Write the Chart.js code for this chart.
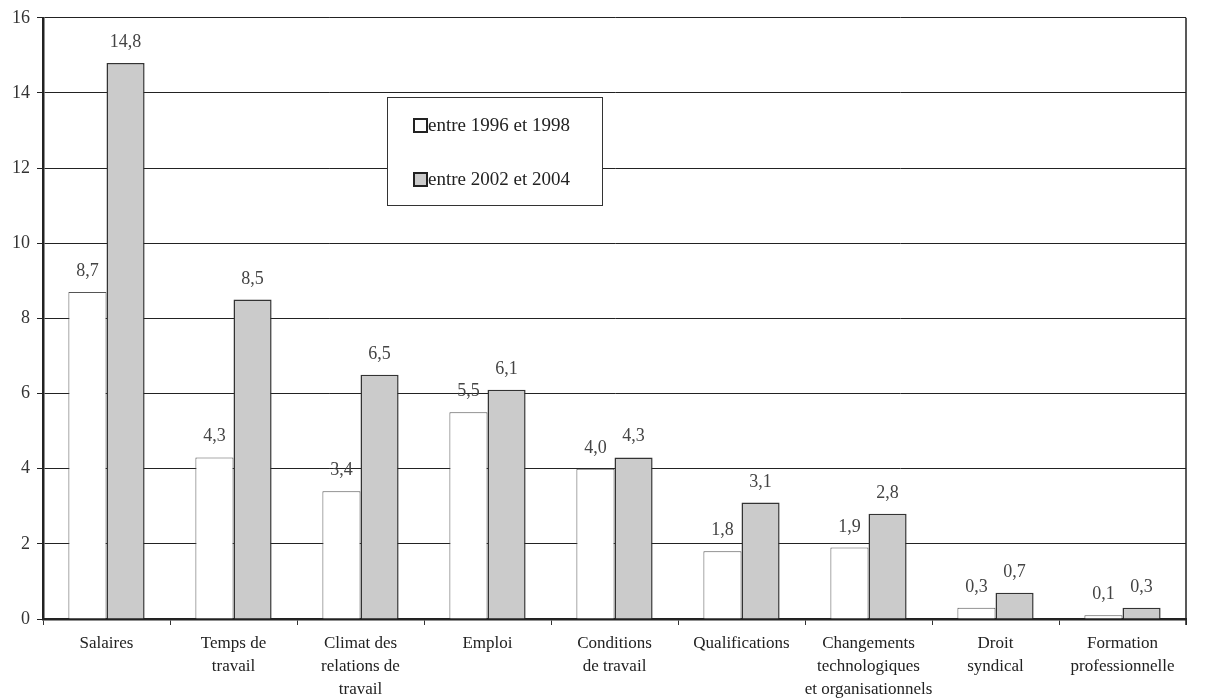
<!DOCTYPE html>
<html>
<head>
<meta charset="utf-8">
<script src="https://cdn.jsdelivr.net/npm/chart.js@4/dist/chart.umd.min.js"></script>
<style>
  body { margin: 0; background: #fff; }
  #wrap { width: 1210px; height: 698px; position: relative; }
</style>
</head>
<body>
<div id="wrap"><canvas id="chart"></canvas></div>
<script>
const categories = [
  "Salaires",
  ["Temps de", "travail"],
  ["Climat des", "relations de", "travail"],
  "Emploi",
  ["Conditions", "de travail"],
  "Qualifications",
  ["Changements", "technologiques", "et organisationnels"],
  ["Droit", "syndical"],
  ["Formation", "professionnelle"]
];
const seriesNames = ["entre 1996 et 1998", "entre 2002 et 2004"];
const values1996 = [8.7, 4.3, 3.4, 5.5, 4.0, 1.8, 1.9, 0.3, 0.1];
const values2002 = [14.8, 8.5, 6.5, 6.1, 4.3, 3.1, 2.8, 0.7, 0.3];
const yTicks = [0, 2, 4, 6, 8, 10, 12, 14, 16];

const SERIF = "'Liberation Serif', 'DejaVu Serif', serif";
const GRAY = "#cbcbcb";

// value labels above each bar, with a french decimal comma
const valueLabels = {
  id: "valueLabels",
  afterDatasetsDraw(chart) {
    const ctx = chart.ctx;
    ctx.save();
    ctx.font = "18px " + SERIF;
    ctx.fillStyle = "#444";
    ctx.textAlign = "center";
    ctx.textBaseline = "alphabetic";
    chart.data.datasets.forEach((ds, i) => {
      chart.getDatasetMeta(i).data.forEach((bar, j) => {
        const txt = ds.data[j].toFixed(1).replace(".", ",");
        ctx.fillText(txt, bar.x, bar.y - 16);
      });
    });
    ctx.restore();
  }
};

// right frame line and the boxed legend inside the plot
const frameAndLegend = {
  id: "frameAndLegend",
  afterDraw(chart) {
    const ctx = chart.ctx;
    const a = chart.chartArea;
    ctx.save();
    ctx.strokeStyle = "#222";
    ctx.lineWidth = 1.5;
    ctx.beginPath();
    ctx.moveTo(a.right, a.top);
    ctx.lineTo(a.right, a.bottom + 6);
    ctx.stroke();

    const bx = 387, by = 97, bw = 215, bh = 108;
    ctx.fillStyle = "#fff";
    ctx.fillRect(bx, by, bw, bh);
    ctx.lineWidth = 1;
    ctx.strokeStyle = "#333";
    ctx.strokeRect(bx + 0.5, by + 0.5, bw, bh);

    ctx.font = "19px " + SERIF;
    ctx.textBaseline = "middle";
    ctx.textAlign = "left";
    chart.data.datasets.forEach((ds, i) => {
      const y = by + 29 + i * 54;
      ctx.fillStyle = ds.backgroundColor;
      ctx.fillRect(414, y - 7, 13, 13);
      ctx.lineWidth = 2;
      ctx.strokeStyle = "#222";
      ctx.strokeRect(414, y - 7, 13, 13);
      ctx.fillStyle = "#222";
      ctx.fillText(ds.label, 428, y);
    });
    ctx.restore();
  }
};

new Chart(document.getElementById("chart"), {
  type: "bar",
  data: {
    labels: categories,
    datasets: [
      {
        label: seriesNames[0],
        data: values1996,
        backgroundColor: "#ffffff",
        borderColor: "#555",
        borderWidth: 1
      },
      {
        label: seriesNames[1],
        data: values2002,
        backgroundColor: GRAY,
        borderColor: "#333",
        borderWidth: 1.5
      }
    ]
  },
  options: {
    responsive: true,
    maintainAspectRatio: false,
    animation: false,
    layout: { padding: { top: 12, right: 24, left: 0, bottom: 0 } },
    datasets: { bar: { categoryPercentage: 0.6, barPercentage: 1.0 } },
    plugins: {
      legend: { display: false },
      tooltip: { enabled: false }
    },
    scales: {
      x: {
        afterFit(scale) { scale.height = 79; },
        grid: {
          offset: true,
          drawOnChartArea: false,
          drawTicks: true,
          tickLength: 6,
          color: "#333"
        },
        border: { width: 2.5, color: "#222" },
        ticks: {
          autoSkip: false,
          maxRotation: 0,
          padding: 7,
          color: "#222",
          font: { family: SERIF, size: 17, lineHeight: 1.35 }
        }
      },
      y: {
        min: yTicks[0],
        max: yTicks[yTicks.length - 1],
        afterFit(scale) { scale.width = 43; },
        afterBuildTicks(scale) { scale.ticks = yTicks.map(v => ({ value: v })); },
        grid: {
          color: "#222",
          lineWidth: 1,
          drawTicks: true,
          tickLength: 6
        },
        border: { width: 2.5, color: "#222" },
        ticks: {
          padding: 7,
          color: "#333",
          font: { family: SERIF, size: 18 }
        }
      }
    }
  },
  plugins: [valueLabels, frameAndLegend]
});
</script>
</body>
</html>
